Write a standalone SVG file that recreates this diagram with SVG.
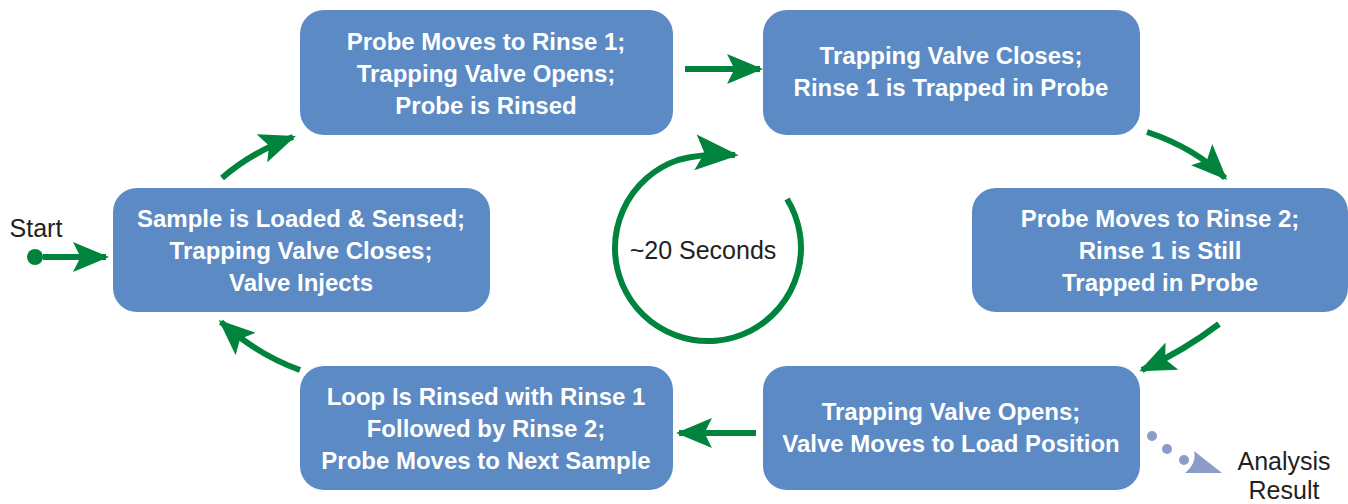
<svg xmlns="http://www.w3.org/2000/svg" width="1348" height="504" viewBox="0 0 1348 504">
<defs>
<style>
.box{fill:#5b8ac4}
.t{font-family:"Liberation Sans",Arial,sans-serif;font-weight:bold;font-size:24px;fill:#fff;text-anchor:middle}
.l{font-family:"Liberation Sans",Arial,sans-serif;font-size:25px;fill:#231f20;text-anchor:middle}
.c{fill:none;stroke:#00843d;stroke-width:6}
</style>
<marker id="ah" viewBox="0 0 12 10" refX="11" refY="5" markerWidth="6" markerHeight="5" markerUnits="strokeWidth" orient="auto">
<path d="M0,0 L12,5 L0,10 L2.5,5 Z" fill="#00843d"/>
</marker>
<marker id="ah2" viewBox="0 0 12 10" refX="11" refY="5" markerWidth="7.5" markerHeight="6" markerUnits="strokeWidth" orient="auto">
<path d="M0,0 L12,5 L0,10 L2.5,5 Z" fill="#00843d"/>
</marker>
</defs>
<rect width="1348" height="504" fill="#fff"/>
<g id="n1"><rect class="box" x="300" y="10" width="373" height="125" rx="24"/>
<text class="t" x="486" y="50">Probe Moves to Rinse 1;</text>
<text class="t" x="486" y="82">Trapping Valve Opens;</text>
<text class="t" x="486" y="114">Probe is Rinsed</text></g>
<g id="n2"><rect class="box" x="763" y="10" width="377" height="125" rx="24"/>
<text class="t" x="951" y="64">Trapping Valve Closes;</text>
<text class="t" x="951" y="96">Rinse 1 is Trapped in Probe</text></g>
<g id="n3"><rect class="box" x="972" y="188" width="376" height="124" rx="24"/>
<text class="t" x="1160" y="227">Probe Moves to Rinse 2;</text>
<text class="t" x="1160" y="259">Rinse 1 is Still</text>
<text class="t" x="1160" y="291">Trapped in Probe</text></g>
<g id="n4"><rect class="box" x="763" y="366" width="377" height="124" rx="24"/>
<text class="t" x="951" y="420">Trapping Valve Opens;</text>
<text class="t" x="951" y="452">Valve Moves to Load Position</text></g>
<g id="n5"><rect class="box" x="300" y="366" width="373" height="124" rx="24"/>
<text class="t" x="486" y="405">Loop Is Rinsed with Rinse 1</text>
<text class="t" x="486" y="437">Followed by Rinse 2;</text>
<text class="t" x="486" y="469">Probe Moves to Next Sample</text></g>
<g id="n6"><rect class="box" x="113" y="188" width="377" height="124" rx="24"/>
<text class="t" x="301" y="227">Sample is Loaded &amp; Sensed;</text>
<text class="t" x="301" y="259">Trapping Valve Closes;</text>
<text class="t" x="301" y="291">Valve Injects</text></g>
<g id="start"><text class="l" x="36" y="237">Start</text>
<circle cx="35" cy="257" r="8" fill="#00843d"/></g>
<g id="result"><text class="l" x="1284" y="470">Analysis</text>
<text class="l" x="1284" y="499">Result</text>
<g fill="#8c9cc8"><circle cx="1152" cy="436" r="5"/><circle cx="1167" cy="449" r="5"/><circle cx="1184" cy="460" r="5"/>
<path d="M1194,451 L1222,473 L1185,473 Q1197,463 1194,451 Z"/></g></g>
<g id="timer"><path class="c" d="M787,199 A93,93 0 1 1 678,160 Q705,153 735,155" marker-end="url(#ah2)" stroke-width="7"/>
<text class="l" x="703" y="259">~20 Seconds</text></g>
<g id="connectors">
<path class="c" d="M43,257 L106,257" marker-end="url(#ah)"/>
<path class="c" d="M685,69 L760,69" marker-end="url(#ah)"/>
<path class="c" d="M1147,132 Q1195,148 1225,178" marker-end="url(#ah)"/>
<path class="c" d="M1219,324 Q1185,350 1142,370" marker-end="url(#ah)"/>
<path class="c" d="M756,433 L679,433" marker-end="url(#ah)"/>
<path class="c" d="M300,370 Q258,355 221,322" marker-end="url(#ah)"/>
<path class="c" d="M222,178 Q252,152 293,137" marker-end="url(#ah)"/>
</g>
</svg>
